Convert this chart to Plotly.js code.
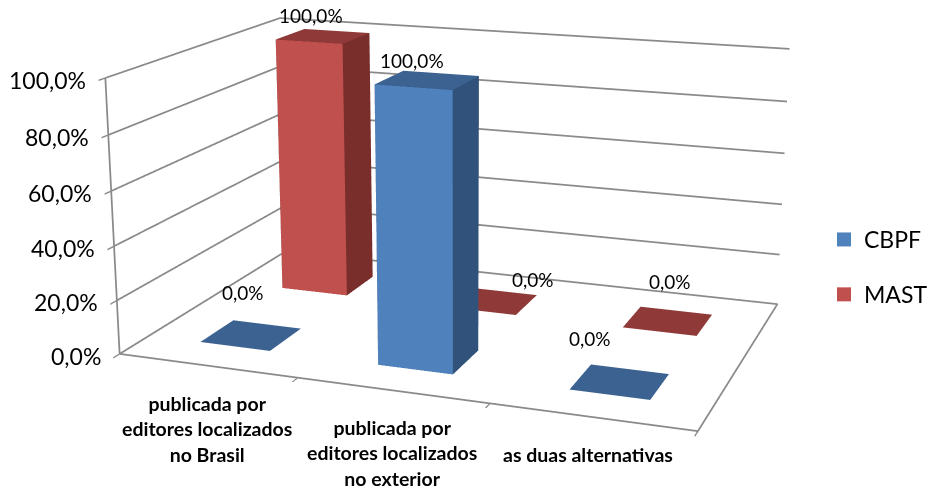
<!DOCTYPE html>
<html><head><meta charset="utf-8">
<script src="https://cdn.plot.ly/plotly-3.0.1.min.js"></script>
<style>html,body{margin:0;padding:0;background:#fff;overflow:hidden;width:930px;height:488px}
#frame{position:absolute;left:0;top:0;width:930px;height:488px;overflow:hidden}
#g{position:absolute;left:-954px;top:-545px;width:2832px;height:1486px}</style>
</head><body><div id="frame"><div id="g"></div></div>
<script>
const categories=["publicada por<br>editores localizados<br>no Brasil","publicada por<br>editores localizados<br>no exterior","as duas alternativas"];
const seriesNames=["CBPF","MAST"];
const cbpf=[0,100,0];
const mast=[100,0,0];
const zTicks=[0,20,40,60,80,100];
const zTickText=["0,0%","20,0%","40,0%","60,0%","80,0%","100,0%"];
const faceColors=[{front:"#4F81BD",top:"#3C6291",side:"#31527A"},{front:"#C0504D",top:"#8F3A38",side:"#7A2E2C"}];
const depthBand=[[0.155,0.345],[0.655,0.845]];
const labelShiftX=[[-8,-15,-30],[-12,41,2]];
const labelShiftY=[[43,20,43],[21,22,39]];
const barWidth=0.4, xMax=3, zMax=100;
const W=2832,H=1486,OX=954,OY=545;
const px=x=>(x+OX)/W, py=y=>1-(y+OY)/H;

function barsTrace(vals,s){
  const x=[],y=[],z=[],i=[],j=[],k=[],fc=[];const c=faceColors[s];const [y0,y1]=depthBand[s];
  vals.forEach((v,n)=>{
    const x0=n+0.5-barWidth/2,x1=n+0.5+barWidth/2,b=x.length;
    [[x0,y0,0],[x1,y0,0],[x1,y1,0],[x0,y1,0],[x0,y0,v],[x1,y0,v],[x1,y1,v],[x0,y1,v]].forEach(p=>{x.push(p[0]);y.push(p[1]);z.push(p[2]);});
    const quad=(a,bb,cc,d,col)=>{i.push(b+a,b+a);j.push(b+bb,b+cc);k.push(b+cc,b+d);fc.push(col,col);};
    if(v>0){quad(0,1,5,4,c.front);quad(1,2,6,5,c.side);quad(3,2,6,7,c.side);quad(0,3,7,4,c.side);}
    quad(4,5,6,7,c.top);
  });
  return {type:"mesh3d",name:seriesNames[s],x,y,z,i,j,k,facecolor:fc,flatshading:true,showlegend:false,showscale:false,color:c.front,
    lighting:{ambient:1,diffuse:0,specular:0,roughness:1,fresnel:0},hoverinfo:"skip"};
}
function legendTrace(vals,s){ // marker sits inside the tall bar, so only its legend swatch shows
  const n=vals.indexOf(Math.max(...vals));
  return {type:"scatter3d",mode:"markers",name:seriesNames[s],legendgroup:seriesNames[s],x:[n+0.5],y:[(depthBand[s][0]+depthBand[s][1])/2],z:[vals[n]/2],
    marker:{symbol:"square",size:14,color:faceColors[s].front},showlegend:true,hoverinfo:"skip"};
}
const frameColor="#8a8a8a";
function line3(xs,ys,zs){return {type:"scatter3d",mode:"lines",x:xs,y:ys,z:zs,line:{color:frameColor,width:3.5},showlegend:false,hoverinfo:"skip"};}
const traces=[barsTrace(cbpf,0),barsTrace(mast,1),legendTrace(cbpf,0),legendTrace(mast,1)];
traces.push(line3([0,xMax,xMax,0,0],[0,0,1,1,0],[0,0,0,0,0]));
zTicks.forEach(t=>{traces.push(line3([0,0,xMax],[0,1,1],[t,t,t]));});
traces.push(line3([0,0],[0,0],[0,zMax]));
const anns=[];
const catShiftX=[0,0,-4];
categories.forEach((c,n)=>{anns.push({x:n+0.5,y:0,z:0,text:c,showarrow:false,xanchor:"center",yanchor:"top",yshift:-24,xshift:catShiftX[n],font:{family:"Lato",size:19.5,weight:"bold",color:"#000"}});});
[cbpf,mast].forEach((vals,s)=>vals.forEach((v,n)=>{anns.push({x:n+0.5,y:(depthBand[s][0]+depthBand[s][1])/2,z:v,text:v.toFixed(1).replace(".",",")+"%",showarrow:false,xanchor:"center",yanchor:"middle",xshift:labelShiftX[s][n],yshift:labelShiftY[s][n],font:{family:"Lato",size:19,color:"#000"}});}));
zTicks.forEach((t,n)=>{anns.push({x:0,y:0,z:t,text:zTickText[n],showarrow:false,xanchor:"right",xshift:-17,yshift:-2,font:{family:"Lato",size:23,color:"#000"}});});
const noAxis={showbackground:false,showgrid:false,zeroline:false,showline:false,showticklabels:false,ticks:"",showspikes:false,title:{text:""}};
const layout={width:W,height:H,margin:{l:0,r:0,t:0,b:0},paper_bgcolor:"#fff",showlegend:true,
 legend:{x:px(824),y:py(218),xanchor:"left",yanchor:"top",font:{family:"Lato",size:23,color:"#000"},itemsizing:"trace",tracegroupgap:22,bgcolor:"rgba(0,0,0,0)"},
 scene:{domain:{x:[0,1],y:[0,1]},aspectmode:"manual",aspectratio:{x:1.5,y:0.9801,z:0.715},
  camera:{eye:{x:1.5541,y:-4.2449,z:1.1983},center:{x:0,y:0,z:0},up:{x:0,y:0,z:1},projection:{type:"perspective"}},
  xaxis:Object.assign({},noAxis,{range:[0,xMax],ticks:"outside",tickmode:"array",tickvals:[1,2,3],ticklen:18,tickwidth:3,tickcolor:frameColor}),
  yaxis:Object.assign({},noAxis,{range:[0,1]}),
  zaxis:Object.assign({},noAxis,{range:[0,zMax],ticks:"outside",tickmode:"array",tickvals:zTicks,ticklen:18,tickwidth:3,tickcolor:frameColor}),
  annotations:anns}};
Plotly.newPlot("g",traces,layout,{displayModeBar:false});
</script></body></html>
